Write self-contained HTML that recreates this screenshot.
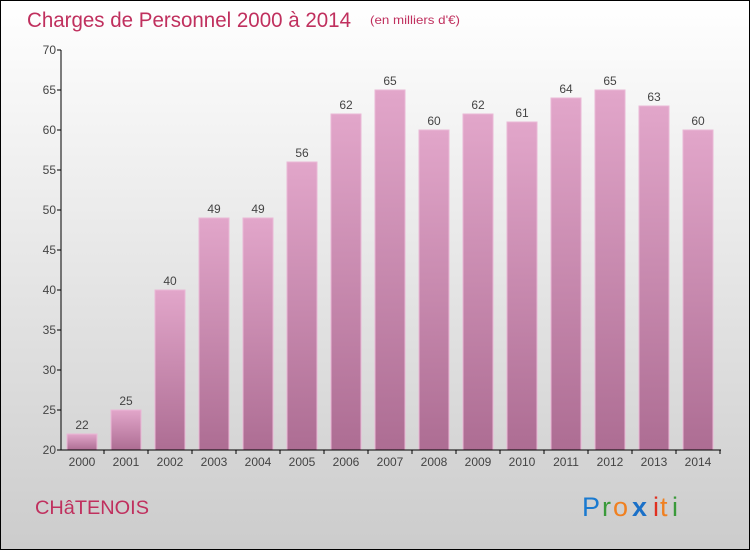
<!DOCTYPE html>
<html><head><meta charset="utf-8"><style>
body{margin:0;width:750px;height:550px;overflow:hidden;font-family:"Liberation Sans",sans-serif}
</style></head><body>
<svg width="750" height="550" xmlns="http://www.w3.org/2000/svg">
<defs>
<linearGradient id="bg" x1="0" y1="0" x2="0" y2="1"><stop offset="0" stop-color="#ffffff"/><stop offset="1" stop-color="#cccccc"/></linearGradient>
<linearGradient id="bar" x1="0" y1="0" x2="0" y2="1"><stop offset="0" stop-color="#e2a6ca"/><stop offset="1" stop-color="#ad6d93"/></linearGradient>
</defs>
<rect x="0.5" y="0.5" width="749" height="549" fill="url(#bg)" stroke="#000"/>
<text x="27" y="27" font-size="21" fill="#c0305e" textLength="324" lengthAdjust="spacingAndGlyphs">Charges de Personnel 2000 à 2014</text>
<text x="370" y="24" font-size="12" fill="#c0305e" textLength="90" lengthAdjust="spacingAndGlyphs">(en milliers d'€)</text>
<g id="plot"></g>
<text x="35" y="514" font-size="19" fill="#c0305e" textLength="114" lengthAdjust="spacingAndGlyphs">CHâTENOIS</text>
<g font-size="27">
<text x="582" y="516" fill="#1a7ad0">P</text><text x="602" y="516" fill="#3a9a3a">r</text><text x="613" y="516" fill="#f08020">o</text><text x="632" y="516" fill="#1a70c8" font-weight="bold">x</text><text x="653" y="516" fill="#e03020">i</text><text x="660" y="516" fill="#f08020">t</text><text x="672" y="516" fill="#3a9a3a">i</text>
</g>
</svg>
<script>
const years=["2000","2001","2002","2003","2004","2005","2006","2007","2008","2009","2010","2011","2012","2013","2014"];
const values=[22,25,40,49,49,56,62,65,60,62,61,64,65,63,60];
const yTicks=[20,25,30,35,40,45,50,55,60,65,70];
const NS="http://www.w3.org/2000/svg";
const g=document.getElementById('plot');
const y=v=>450-(v-20)*8;
const x=i=>82+i*44;
function mk(t,a,p){const e=document.createElementNS(NS,t);for(const k in a)e.setAttribute(k,a[k]);(p||g).appendChild(e);return e;}
values.forEach((v,i)=>{
 const r=mk('rect',{x:x(i)-15,y:y(v),width:30,height:450-y(v),fill:'url(#bar)',stroke:'#eab8d6','stroke-width':1});
 
 
 const t=mk('text',{x:x(i),y:y(v)-5,'text-anchor':'middle','font-size':12,fill:'#444'});
 t.textContent=v;
 
 
 const l=mk('text',{x:x(i),y:466,'text-anchor':'middle','font-size':12,fill:'#444'});
 l.textContent=years[i];
 
 
 const tk=mk('line',{x1:x(i)+22,x2:x(i)+22,y1:450,y2:454,stroke:'#000'});
 
 
});
yTicks.forEach(v=>{
 const tk=mk('line',{x1:57,x2:61,y1:y(v),y2:y(v),stroke:'#000'});
 
 
 const t=mk('text',{x:56,y:y(v)+4,'text-anchor':'end','font-size':12,fill:'#444'});
 t.textContent=v;
 
 
});
const ya=mk('line',{x1:61,x2:61,y1:50,y2:450,stroke:'#000'});


const xa=mk('line',{x1:61,x2:721,y1:450,y2:450,stroke:'#000'});


</script>
</body></html>
